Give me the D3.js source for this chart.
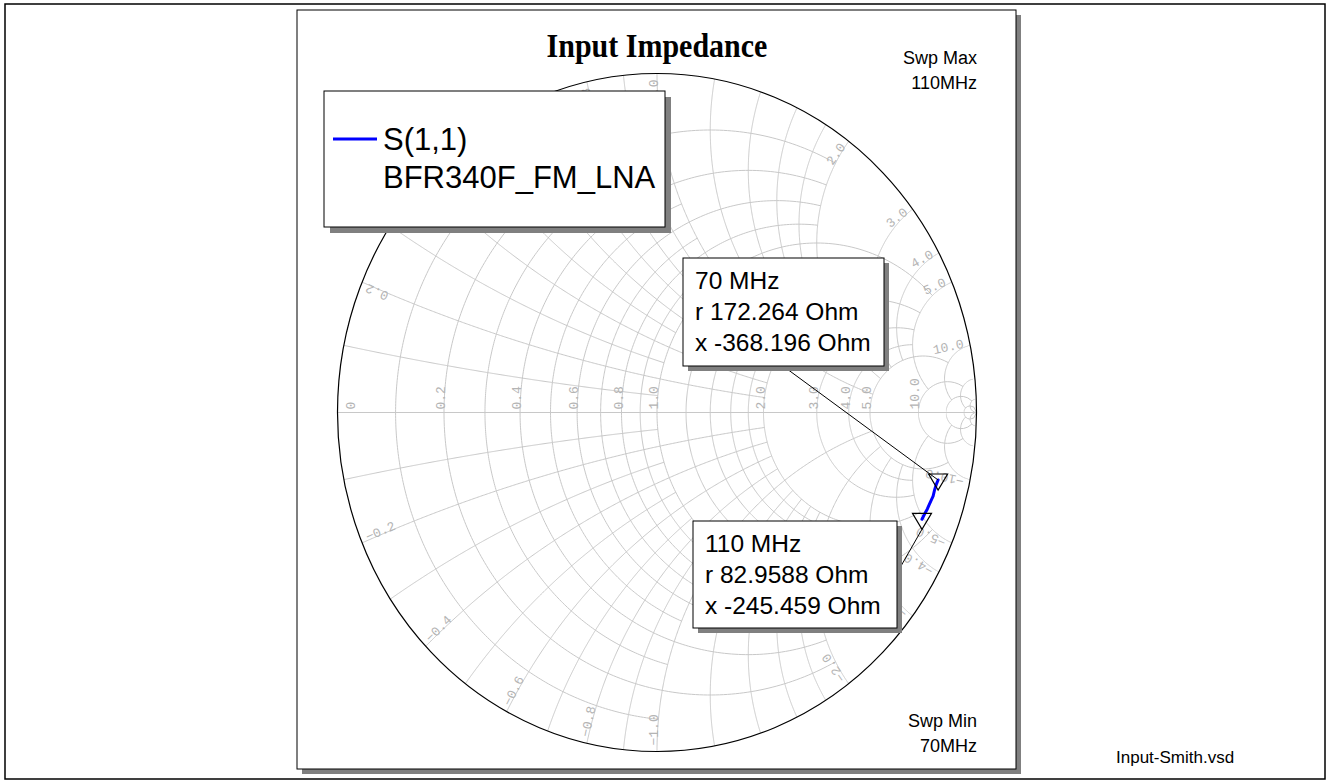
<!DOCTYPE html>
<html lang="en">
<head>
<meta charset="UTF-8" />
<title>Input Impedance</title>
<style>
  body { margin: 0; background: #fff; overflow: hidden; }
  svg { display: block; }
  .grid { fill: none; stroke: #c8c8c8; stroke-width: 1; }
  .glabel { font-family: "Liberation Mono", "DejaVu Sans Mono", monospace; font-size: 13px; fill: #b4b4b4; }
  .txt { font-family: "Liberation Sans", Arial, sans-serif; fill: #000; }
</style>
</head>
<body>
<svg width="1330" height="782"></svg>
<script src="https://d3js.org/d3.v7.min.js"></script>
<script>
// S(1,1) of BFR340F_FM_LNA, impedance in ohms (Z0 = 50)
const Z0 = 50;
const freqs    = [70, 75, 80, 85, 90, 95, 100, 105, 110];
const resOhm   = [172.264, 158, 139, 121, 112, 104, 97, 90, 82.9588];
const reactOhm = [-368.196, -350, -329, -311, -296, -283, -272, -258, -245.459];
const markerIdx = [0, 8];

// labelled grid values
const rLabels = [0, 0.2, 0.4, 0.6, 0.8, 1.0, 2.0, 3.0, 4.0, 5.0, 10.0];
const xLabels = [0.2, 0.4, 0.6, 0.8, 1.0, 2.0, 3.0, 4.0, 5.0, 10.0];

// resistance circles: [r, |x| limit]
const rCircles = [
  [0.1, 1], [0.2, 2], [0.3, 1], [0.4, 2], [0.5, 1], [0.6, 2], [0.7, 1], [0.8, 2], [0.9, 1], [1.0, 5],
  [1.2, 2], [1.4, 2], [1.6, 2], [1.8, 2], [2.0, 5], [3.0, 5], [4.0, 5], [5.0, 10], [10, 20], [20, 50], [50, 1e6]
];
// reactance arcs: [x, r from, r to]
const xArcs = [
  [0.1, 0, 1], [0.2, 0, 2], [0.3, 0, 1], [0.4, 0, 2], [0.5, 0, 1], [0.6, 0, 2], [0.7, 0, 1], [0.8, 0, 2], [0.9, 0, 1], [1.0, 0, 5],
  [1.2, 0, 2], [1.4, 0, 2], [1.6, 0, 2], [1.8, 0, 2], [2.0, 0, 5], [3.0, 0, 5], [4.0, 0, 5], [5.0, 0, 10], [10, 0, 20], [20, 0, 50], [50, 0, 1e6]
];

const svg = d3.select("svg");
const sx = d3.scaleLinear().domain([-1, 1]).range([337.5, 976.5]);
const sy = d3.scaleLinear().domain([-1, 1]).range([751.5, 73.5]);

// normalised impedance -> reflection coefficient
function gamma(r, x) {
  const den = (r + 1) * (r + 1) + x * x;
  return [(r * r - 1 + x * x) / den, (2 * x) / den];
}
const line = d3.line().x(d => sx(d[0])).y(d => sy(d[1]));

// outer frame and panel
svg.append("rect").attr("x", 5).attr("y", 4).attr("width", 1320).attr("height", 775)
  .attr("fill", "none").attr("stroke", "#000").attr("stroke-width", 1.5);
svg.append("rect").attr("x", 302).attr("y", 15).attr("width", 719).attr("height", 759).attr("fill", "#808080");
svg.append("rect").attr("x", 297).attr("y", 10).attr("width", 719).attr("height", 759)
  .attr("fill", "#fff").attr("stroke", "#000").attr("stroke-width", 1);

svg.append("text").attr("class", "txt")
  .attr("transform", "translate(657,57) scale(1,1.12)")
  .attr("text-anchor", "middle")
  .style("font-family", '"Liberation Serif", "Times New Roman", serif')
  .style("font-weight", "bold").style("font-size", "30px")
  .text("Input Impedance");

// grid
svg.append("clipPath").attr("id", "unit")
  .append("ellipse").attr("cx", sx(0)).attr("cy", sy(0))
  .attr("rx", sx(1) - sx(0)).attr("ry", sy(-1) - sy(0));
const g = svg.append("g").attr("clip-path", "url(#unit)");

rCircles.forEach(([r, xm]) => {
  const vmax = Math.atan(xm);
  const pts = d3.range(0, 301).map(i => gamma(r, Math.tan(-vmax + 2 * vmax * i / 300)));
  g.append("path").attr("class", "grid").attr("d", line(pts));
});
xArcs.forEach(([x, r0, r1]) => {
  const u0 = r0 / (1 + r0), u1 = Math.min(r1 / (1 + r1), 0.99999);
  [x, -x].forEach(xv => {
    const pts = d3.range(0, 301).map(i => {
      const u = u0 + (u1 - u0) * i / 300;
      return gamma(u / (1 - u), xv);
    });
    g.append("path").attr("class", "grid").attr("d", line(pts));
  });
});
g.append("line").attr("class", "grid")
  .attr("x1", sx(-1)).attr("x2", sx(1)).attr("y1", sy(0)).attr("y2", sy(0));

svg.append("ellipse").attr("cx", sx(0)).attr("cy", sy(0))
  .attr("rx", sx(1) - sx(0)).attr("ry", sy(-1) - sy(0))
  .attr("fill", "none").attr("stroke", "#000").attr("stroke-width", 1.2);

// grid labels
const fmt = d3.format(".1f");
rLabels.forEach(r => {
  const px = sx((r - 1) / (r + 1)) + (r === 0 ? 17 : 1);
  svg.append("text").attr("class", "glabel")
    .attr("transform", `translate(${px},${sy(0) - 3}) rotate(-90)`)
    .text(r === 0 ? "0" : fmt(r));
});
xLabels.forEach(xa => {
  [xa, -xa].forEach(xv => {
    const [gx, gy] = gamma(0, xv);
    const px = sx(gx), py = sy(gy);
    let dx = sx(0) - px, dy = sy(0) - py;
    const len = Math.hypot(dx, dy); dx /= len; dy /= len;
    const a = xv > 0 ? Math.atan2(-dy, -dx) : Math.atan2(dy, dx);
    const ux = Math.sin(a), uy = -Math.cos(a);
    const ax = px + dx * 6 - ux * 1, ay = py + dy * 6 - uy * 1;
    svg.append("text").attr("class", "glabel")
      .attr("text-anchor", xv > 0 ? "end" : "start")
      .attr("transform", `translate(${ax},${ay}) rotate(${a * 180 / Math.PI})`)
      .text(fmt(xv));
  });
});

// sweep labels
[["Swp Max", 64], ["110MHz", 89], ["Swp Min", 727], ["70MHz", 752]].forEach(([t, y]) => {
  svg.append("text").attr("class", "txt").attr("x", 977).attr("y", y)
    .attr("text-anchor", "end").style("font-size", "18px").text(t);
});
svg.append("text").attr("class", "txt").attr("x", 1116).attr("y", 763)
  .style("font-size", "17px").text("Input-Smith.vsd");

// trace
const tracePts = freqs.map((f, i) => gamma(resOhm[i] / Z0, reactOhm[i] / Z0));
svg.append("path").attr("d", line(tracePts))
  .attr("fill", "none").attr("stroke", "#0000ff").attr("stroke-width", 3)
  .attr("stroke-linejoin", "round").attr("stroke-linecap", "round");

// markers
const boxes = [
  { x: 683, y: 258, w: 201, h: 108, lx: 783, ly: 366, toTip: false },
  { x: 693, y: 521, w: 204, h: 107, lx: 897, ly: 573, toTip: true }
];
markerIdx.forEach((k, j) => {
  const [gx, gy] = tracePts[k];
  const px = sx(gx), py = sy(gy);
  const b = boxes[j];
  svg.append("line").attr("x1", b.lx).attr("y1", b.ly)
    .attr("x2", px).attr("y2", b.toTip ? py + 10 : py)
    .attr("stroke", "#000").attr("stroke-width", 1);
  svg.append("path")
    .attr("d", `M${px - 9.5},${py - 6}L${px + 9.5},${py - 6}L${px},${py + 10}Z`)
    .attr("fill", "none").attr("stroke", "#000").attr("stroke-width", 1.2);
  svg.append("rect").attr("x", b.x + 5).attr("y", b.y + 5).attr("width", b.w).attr("height", b.h).attr("fill", "#808080");
  svg.append("rect").attr("x", b.x).attr("y", b.y).attr("width", b.w).attr("height", b.h)
    .attr("fill", "#fff").attr("stroke", "#000").attr("stroke-width", 1);
  const lines = [`${freqs[k]} MHz`, `r ${resOhm[k]} Ohm`, `x ${reactOhm[k]} Ohm`];
  lines.forEach((t, i) => {
    svg.append("text").attr("class", "txt").attr("x", b.x + 12).attr("y", b.y + 31 + i * 31)
      .style("font-size", "24.5px").text(t);
  });
});

// legend
svg.append("rect").attr("x", 330).attr("y", 97).attr("width", 341).attr("height", 136).attr("fill", "#808080");
svg.append("rect").attr("x", 324).attr("y", 91).attr("width", 341).attr("height", 136)
  .attr("fill", "#fff").attr("stroke", "#000").attr("stroke-width", 1);
svg.append("line").attr("x1", 333).attr("x2", 377).attr("y1", 139).attr("y2", 139)
  .attr("stroke", "#0000ff").attr("stroke-width", 3);
svg.append("text").attr("class", "txt").attr("x", 383).attr("y", 150).style("font-size", "31px").text("S(1,1)");
svg.append("text").attr("class", "txt").attr("x", 383).attr("y", 188).style("font-size", "31px").text("BFR340F_FM_LNA");
</script>
</body>
</html>
